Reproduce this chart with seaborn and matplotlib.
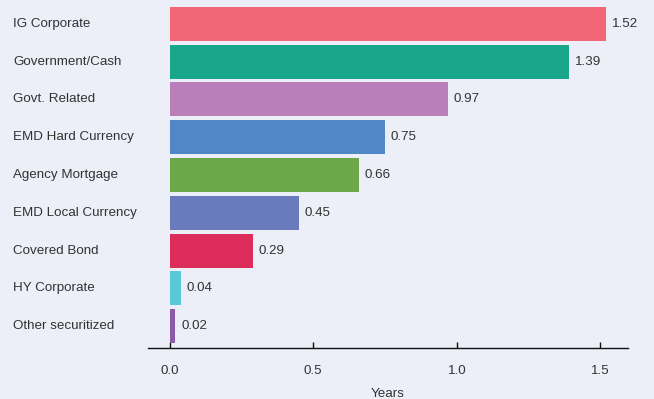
import matplotlib
matplotlib.use("Agg")
import matplotlib.pyplot as plt
import seaborn as sns
import pandas as pd

categories = ["IG Corporate", "Government/Cash", "Govt. Related", "EMD Hard Currency",
              "Agency Mortgage", "EMD Local Currency", "Covered Bond", "HY Corporate",
              "Other securitized"]
values = [1.52, 1.39, 0.97, 0.75, 0.66, 0.45, 0.29, 0.04, 0.02]
colors = ["#f26677", "#1aa68a", "#ba7fb8", "#4f87c7", "#6ca74a", "#6a7bbd",
          "#dc2c5a", "#5bc9d8", "#8a5ca8"]
xticks = [0.0, 0.5, 1.0, 1.5]
xlabel = "Years"

bg = "#eceef8"
txt = "#333333"

sns.set_theme(style="white")
plt.rcParams['font.family'] = ['Liberation Sans', 'DejaVu Sans']

fig = plt.figure(figsize=(6.54, 3.99), dpi=100, facecolor=bg)
ax = fig.add_axes([148/654, 1-348/399, 480/654, (348-3)/399])
ax.set_facecolor(bg)

df = pd.DataFrame({"cat": categories, "val": values})
sns.barplot(data=df, x="val", y="cat", hue="cat", palette=colors, legend=False,
            orient="h", width=0.9, ax=ax, saturation=1, linewidth=0, edgecolor="none")

ax.set_xlim(-0.075, 1.596)
ax.set_ylim(len(categories) - 1 + 0.58, -0.55)

for s in ["top", "right", "left"]:
    ax.spines[s].set_visible(False)
ax.spines["bottom"].set_color("#111111")
ax.spines["bottom"].set_linewidth(1.0)

ax.set_xticks(xticks)
ax.set_xticklabels([f"{t:.1f}" for t in xticks], color=txt, fontsize=9.6)
ax.tick_params(axis="x", bottom=True, direction="in", length=4, width=1,
               color="#111111", pad=12)
ax.set_yticks([])
ax.set_ylabel("")
ax.set_xlabel(xlabel, color=txt, fontsize=9.6, labelpad=8)

for i, (c, v) in enumerate(zip(categories, values)):
    ax.text(-0.281, i, c, transform=ax.get_yaxis_transform(), ha="left", va="center",
            color=txt, fontsize=9.6)
    ax.text(v + 0.02, i, f"{v:.2f}", ha="left", va="center", color=txt, fontsize=9.6)

fig.savefig("out.png", dpi=100, facecolor=bg)
